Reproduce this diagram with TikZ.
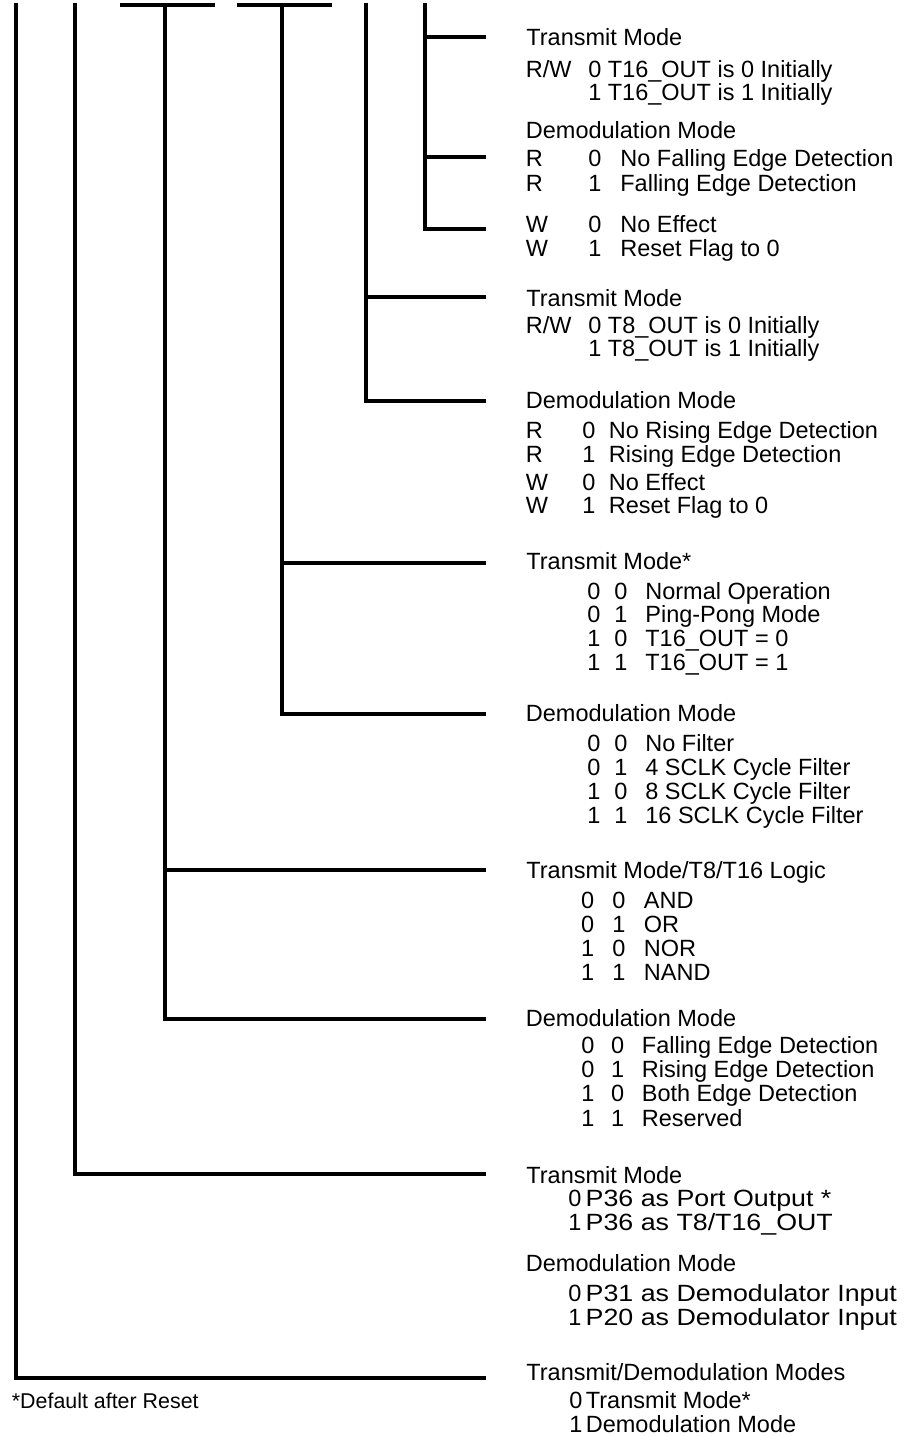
\documentclass[tikz,border=0pt]{standalone}
\usepackage{fontspec}
\usepackage{graphicx}
\setmainfont{Liberation Sans}
\newcommand{\colbox}[2]{\makebox[#1][l]{#2}}
\newcommand{\widetxt}[1]{\scalebox{1.14}[1]{#1}}

\begin{document}
\begin{tikzpicture}[x=0.5pt,y=-0.5pt,
    wire/.style={line width=2pt},
    txt/.style={anchor=base west, inner sep=0pt, font=\fontsize{11.75}{12}\selectfont},
    note/.style={txt, font=\fontsize{10.7}{12}\selectfont}]
    \useasboundingbox (0,0) rectangle (907,1437);

    % bit lines coming down from the register
    \coordinate (v0) at (16,3.3);
    \coordinate (v1) at (75,3.3);
    \coordinate (v2) at (165,5);
    \coordinate (v3) at (282,5);
    \coordinate (v4) at (366,3.3);
    \coordinate (v5) at (425,3.3);
    \draw[wire] (120,5) -- (215,5);
    \draw[wire] (237,5) -- (332,5);

    % free ends of the branches
    \coordinate (eA) at (486,37);
    \coordinate (eB) at (486,157);
    \coordinate (eW) at (486,229);
    \coordinate (eC) at (486,297);
    \coordinate (eD) at (486,401);
    \coordinate (eE) at (486,563);
    \coordinate (eF) at (486,714);
    \coordinate (eG) at (486,870);
    \coordinate (eH) at (486,1019);
    \coordinate (eI) at (486,1174);
    \coordinate (eK) at (486,1378);

    \draw[wire] (v5) |- (eW);
    \draw[wire] (v5 |- eA) -- (eA);
    \draw[wire] (v5 |- eB) -- (eB);
    \draw[wire] (v4) |- (eD);
    \draw[wire] (v4 |- eC) -- (eC);
    \draw[wire] (v3) |- (eF);
    \draw[wire] (v3 |- eE) -- (eE);
    \draw[wire] (v2) |- (eH);
    \draw[wire] (v2 |- eG) -- (eG);
    \draw[wire] (v1) |- (eI);
    \draw[wire] (v0) |- (eK);

    % T16 out / falling edge
    \node[txt] (hA) at (526,45) {Transmit Mode};
    \node[txt] (a1) at (525.5,77.3) {\colbox{31.25pt}{R/W}\colbox{9.75pt}{0}T16\_OUT is 0 Initially};
    \node[txt] (a2) at (588,100.7) {\colbox{9.75pt}{1}T16\_OUT is 1 Initially};
    \node[txt] (hB) at (525.5,138.3) {Demodulation Mode};
    \node[txt] (b1) at (525.5,166.7) {\colbox{31.25pt}{R}\colbox{16pt}{0}No Falling Edge Detection};
    \node[txt] (b2) at (525.5,191) {\colbox{31.25pt}{R}\colbox{16pt}{1}Falling Edge Detection};
    \node[txt] (b3) at (525.5,232.3) {\colbox{31.25pt}{W}\colbox{16pt}{0}No Effect};
    \node[txt] (b4) at (525.5,256.7) {\colbox{31.25pt}{W}\colbox{16pt}{1}Reset Flag to 0};

    % T8 out / rising edge
    \node[txt] (hC) at (526,306.7) {Transmit Mode};
    \node[txt] (c1) at (525.5,333.3) {\colbox{31.25pt}{R/W}\colbox{9.75pt}{0}T8\_OUT is 0 Initially};
    \node[txt] (c2) at (588,356.7) {\colbox{9.75pt}{1}T8\_OUT is 1 Initially};
    \node[txt] (hD) at (525.5,408.3) {Demodulation Mode};
    \node[txt] (d1) at (525.5,438.3) {\colbox{28.25pt}{R}\colbox{13.25pt}{0}No Rising Edge Detection};
    \node[txt] (d2) at (525.5,462.7) {\colbox{28.25pt}{R}\colbox{13.25pt}{1}Rising Edge Detection};
    \node[txt] (d3) at (525.5,490) {\colbox{28.25pt}{W}\colbox{13.25pt}{0}No Effect};
    \node[txt] (d4) at (525.5,513.3) {\colbox{28.25pt}{W}\colbox{13.25pt}{1}Reset Flag to 0};

    % output mode / filter
    \node[txt] (hE) at (526,569.3) {Transmit Mode*};
    \node[txt] (e1) at (587,599) {\colbox{13.5pt}{0}\colbox{15.5pt}{0}Normal Operation};
    \node[txt] (e2) at (587,622.3) {\colbox{13.5pt}{0}\colbox{15.5pt}{1}Ping-Pong Mode};
    \node[txt] (e3) at (587,646.7) {\colbox{13.5pt}{1}\colbox{15.5pt}{0}T16\_OUT = 0};
    \node[txt] (e4) at (587,670) {\colbox{13.5pt}{1}\colbox{15.5pt}{1}T16\_OUT = 1};
    \node[txt] (hF) at (525.5,721.7) {Demodulation Mode};
    \node[txt] (f1) at (587,751.7) {\colbox{13.5pt}{0}\colbox{15.5pt}{0}No Filter};
    \node[txt] (f2) at (587,775.7) {\colbox{13.5pt}{0}\colbox{15.5pt}{1}4 SCLK Cycle Filter};
    \node[txt] (f3) at (587,799.3) {\colbox{13.5pt}{1}\colbox{15.5pt}{0}8 SCLK Cycle Filter};
    \node[txt] (f4) at (587,823.3) {\colbox{13.5pt}{1}\colbox{15.5pt}{1}16 SCLK Cycle Filter};

    % logic / edge select
    \node[txt] (hG) at (526,878.3) {Transmit Mode/T8/T16 Logic};
    \node[txt] (g1) at (580.7,908.3) {\colbox{15.65pt}{0}\colbox{15.75pt}{0}AND};
    \node[txt] (g2) at (580.7,932.7) {\colbox{15.65pt}{0}\colbox{15.75pt}{1}OR};
    \node[txt] (g3) at (580.7,956) {\colbox{15.65pt}{1}\colbox{15.75pt}{0}NOR};
    \node[txt] (g4) at (580.7,980) {\colbox{15.65pt}{1}\colbox{15.75pt}{1}NAND};
    \node[txt] (hH) at (525.5,1026) {Demodulation Mode};
    \node[txt] (h1) at (581,1053.3) {\colbox{14.85pt}{0}\colbox{15.4pt}{0}Falling Edge Detection};
    \node[txt] (h2) at (581,1077.7) {\colbox{14.85pt}{0}\colbox{15.4pt}{1}Rising Edge Detection};
    \node[txt] (h3) at (581,1101.7) {\colbox{14.85pt}{1}\colbox{15.4pt}{0}Both Edge Detection};
    \node[txt] (h4) at (581,1126) {\colbox{14.85pt}{1}\colbox{15.4pt}{1}Reserved};

    % port pins
    \node[txt] (hI) at (526,1183.3) {Transmit Mode};
    \node[txt] (i1) at (568,1206.7) {\colbox{8.65pt}{0}\widetxt{P36 as Port Output *}};
    \node[txt] (i2) at (568,1230) {\colbox{8.65pt}{1}\widetxt{P36 as T8/T16\_OUT}};
    \node[txt] (hJ) at (525.5,1271.7) {Demodulation Mode};
    \node[txt] (j1) at (568,1301.7) {\colbox{8.65pt}{0}\widetxt{P31 as Demodulator Input}};
    \node[txt] (j2) at (568,1325) {\colbox{8.65pt}{1}\widetxt{P20 as Demodulator Input}};

    % mode select
    \node[txt] (hK) at (526,1380) {Transmit/Demodulation Modes};
    \node[txt] (k1) at (569,1408.3) {\colbox{8.25pt}{0}Transmit Mode*};
    \node[txt] (k2) at (569,1432.7) {\colbox{8.25pt}{1}Demodulation Mode};

    \node[note] (dflt) at (11.5,1408) {*Default after Reset};
\end{tikzpicture}
\end{document}
